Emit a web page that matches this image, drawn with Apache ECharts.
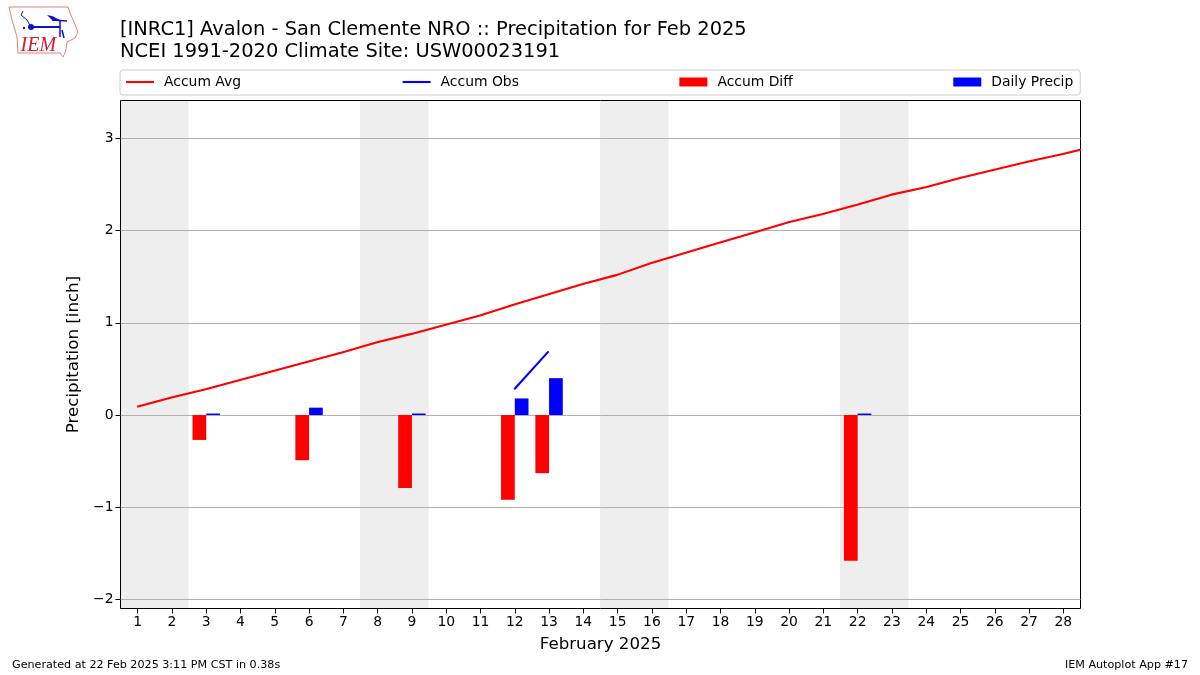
<!DOCTYPE html>
<html><head><meta charset="utf-8">
<style>html,body{margin:0;background:#fff}#c{width:1200px;height:675px}</style>
<script src="https://cdn.jsdelivr.net/npm/echarts@6/dist/echarts.min.js"></script>
</head><body><div id="c"></div>
<script>
const days = [1,2,3,4,5,6,7,8,9,10,11,12,13,14,15,16,17,18,19,20,21,22,23,24,25,26,27,28];
const accumAvgDays = [1,2,3,4,5,6,7,8,9,10,11,12,13,14,15,16,17,18,19,20,21,22,23,24,25,26,27,28,29];
const accumAvg = [0.09,0.19,0.28,0.38,0.48,0.58,0.68,0.79,0.88,0.98,1.08,1.20,1.31,1.42,1.52,1.65,1.76,1.87,1.98,2.09,2.18,2.28,2.39,2.47,2.57,2.66,2.75,2.83,2.92];
const accumObs = [null,null,null,null,null,null,null,null,null,null,null,0.28,0.69,null,null,null,null,null,null,null,null,null,null,null,null,null,null,null];
const accumDiff = [null,null,-0.27,null,null,-0.49,null,null,-0.79,null,null,-0.92,-0.63,null,null,null,null,null,null,null,null,-1.58,null,null,null,null,null,null];
const dailyPrecip = [null,null,0.01,null,null,0.08,null,null,0.01,null,null,0.18,0.40,null,null,null,null,null,null,null,null,0.01,null,null,null,null,null,null];
const weekendSpans = [[0.5,2.5],[7.5,9.5],[14.5,16.5],[21.5,23.5]];
const yTicks = [-2,-1,0,1,2,3];
const titleLines = "[INRC1] Avalon - San Clemente NRO :: Precipitation for Feb 2025\nNCEI 1991-2020 Climate Site: USW00023191";
const font = "DejaVu Sans";
const blue = '#1010d0';
const chart = echarts.init(document.getElementById('c'), null, {renderer:'canvas'});
chart.setOption({
  animation:false,
  backgroundColor:'#fff',
  textStyle:{fontFamily:font},
  title:[
    {text:titleLines,left:120,top:19,padding:0,textStyle:{fontFamily:font,fontWeight:'normal',fontSize:19.45,lineHeight:22,color:'#000'}},
    {text:"Generated at 22 Feb 2025 3:11 PM CST in 0.38s",left:12,top:660,padding:0,textStyle:{fontFamily:font,fontWeight:'normal',fontSize:11.15,color:'#000'}},
    {text:"IEM Autoplot App #17",right:12,top:660,padding:0,textStyle:{fontFamily:font,fontWeight:'normal',fontSize:11.15,color:'#000'}}
  ],
  legend:{
    data:[
      {name:'Accum Avg',itemStyle:{opacity:0}},
      {name:'Accum Obs',itemStyle:{opacity:0}},
      {name:'Accum Diff',icon:'rect'},
      {name:'Daily Precip',icon:'rect'}
    ],
    left:120,top:70,orient:'horizontal',
    padding:[5,7,6,5],itemGap:160.5,itemWidth:28,itemHeight:9,
    lineStyle:{width:2.1},
    borderColor:'#ccc',borderWidth:1,borderRadius:3,
    textStyle:{fontFamily:font,fontSize:13.9,color:'#000',padding:[0,0,0,5]}
  },
  grid:{left:120.5,top:100.5,width:960,height:508,show:true,borderColor:'#000',borderWidth:1,backgroundColor:'transparent'},
  xAxis:[
    {type:'category',data:days,gridIndex:0,
     axisLine:{show:false,onZero:false},
     axisTick:{show:true,alignWithLabel:true,length:5,lineStyle:{color:'#000'}},
     axisLabel:{interval:0,fontSize:13.9,color:'#000',margin:7,fontFamily:font},
     splitLine:{show:false},
     name:'February 2025',nameLocation:'middle',nameGap:28,
     nameTextStyle:{fontSize:16.67,color:'#000',fontFamily:font}},
    {type:'value',gridIndex:0,min:0.5146,max:28.5146,show:false,splitLine:{show:false}}
  ],
  yAxis:[{type:'value',gridIndex:0,min:-2.098,max:3.411,
     axisLine:{show:false,onZero:false},
     axisTick:{show:true,length:5,customValues:yTicks,lineStyle:{color:'#000'}},
     axisLabel:{fontSize:13.9,color:'#000',margin:7,fontFamily:font,customValues:yTicks,
       formatter:v=>String(v).replace('-','\u2212')},
     splitLine:{show:true,lineStyle:{color:'#b0b0b0',width:1}},
     name:'Precipitation [inch]',nameLocation:'middle',nameGap:31,
     nameTextStyle:{fontSize:16.67,color:'#000',fontFamily:font}}],
  series:[
    {name:'Weekend',type:'line',xAxisIndex:1,yAxisIndex:0,data:[],z:-1,silent:true,
     markArea:{silent:true,z:-1,itemStyle:{color:'#eeeeee'},data:weekendSpans.map(s=>[{xAxis:s[0]},{xAxis:s[1]}])}},
    {name:'Accum Avg',type:'line',xAxisIndex:1,yAxisIndex:0,symbol:'none',z:3,
     lineStyle:{color:'#ff0000',width:2.1},itemStyle:{color:'#ff0000'},
     data:accumAvgDays.map((d,i)=>[d,accumAvg[i]])},
    {name:'Accum Obs',type:'line',xAxisIndex:1,yAxisIndex:0,symbol:'none',z:3,
     lineStyle:{color:'#0000ff',width:2.1},itemStyle:{color:'#0000ff'},
     data:days.map((d,i)=>[d,accumObs[i]])},
    {name:'Accum Diff',type:'bar',xAxisIndex:0,yAxisIndex:0,barWidth:'40%',barGap:0,itemStyle:{color:'#ff0000'},data:accumDiff},
    {name:'Daily Precip',type:'bar',xAxisIndex:0,yAxisIndex:0,barWidth:'40%',barGap:0,barMinHeight:1.5,itemStyle:{color:'#0000ff'},data:dailyPrecip}
  ],
  graphic:[
    {type:'rect',silent:true,z:100,shape:{x:1081,y:130,width:6,height:40},style:{fill:'#fff'}},
    {type:'polygon',silent:true,shape:{points:[[9,7],[68,7],[70,13],[74,22],[78,32],[75,38],[67,42],[66,49],[65,53],[63,57],[60,53],[18,53],[17,37],[12,20]]},style:{fill:'#fff',stroke:'#e08080',lineWidth:1}},
    {type:'polyline',silent:true,shape:{points:[[31,27],[60,27]]},style:{stroke:blue,fill:'none',lineWidth:2}},
    {type:'polyline',silent:true,shape:{points:[[60,20],[60,37]]},style:{stroke:blue,fill:'none',lineWidth:1.5}},
    {type:'polygon',silent:true,shape:{points:[[47,15],[52,16],[60,20],[53,21]]},style:{fill:blue}},
    {type:'polyline',silent:true,shape:{points:[[52,20],[67,21]]},style:{stroke:blue,fill:'none',lineWidth:1.5}},
    {type:'polyline',silent:true,shape:{points:[[62,30],[64,38]]},style:{stroke:blue,fill:'none',lineWidth:1.5}},
    {type:'polyline',silent:true,shape:{points:[[23,11],[21,15],[27,20],[31,27]]},style:{stroke:blue,fill:'none',lineWidth:1}},
    {type:'circle',silent:true,shape:{cx:31,cy:27,r:3},style:{fill:blue}},
    {type:'circle',silent:true,shape:{cx:24,cy:28,r:1.2},style:{fill:blue}},
    {type:'text',silent:true,left:20.5,top:36,style:{text:'IEM',font:'italic 20px "Liberation Serif"',fill:'#d02030'}}
  ]
});
</script></body></html>
